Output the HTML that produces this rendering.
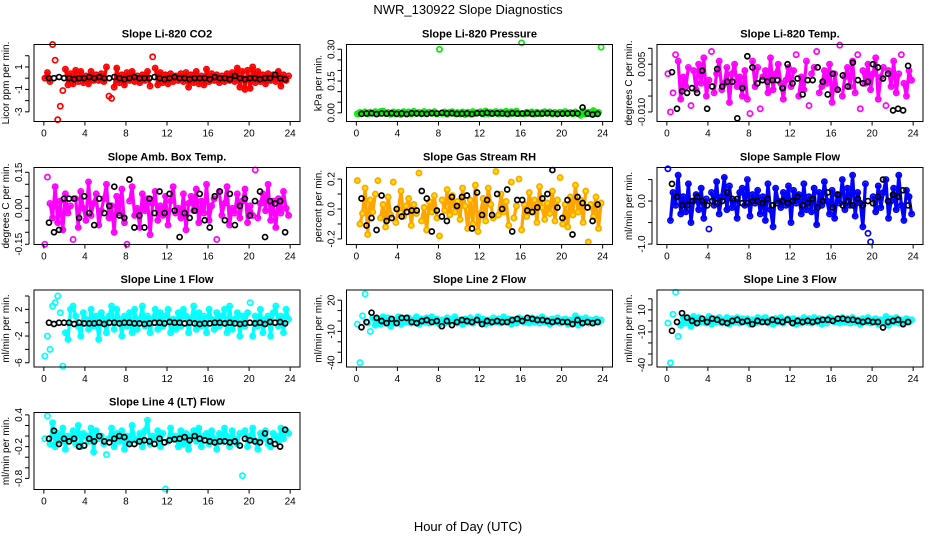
<!DOCTYPE html>
<html><head><meta charset="utf-8"><style>
body{margin:0;background:#fff}
svg{display:block;font-family:"Liberation Sans",Arial,sans-serif}
</style></head><body>
<svg id="c" width="936" height="540" viewBox="0 0 936 540" xmlns="http://www.w3.org/2000/svg">
<text x="468" y="14" text-anchor="middle" font-size="13">NWR_130922  Slope Diagnostics</text>
<text x="468" y="531" text-anchor="middle" font-size="13">Hour of Day (UTC)</text>
</svg>
<script>
// ---- data (values scaled by panel scale) ----
const titles = ["Slope Li-820 CO2","Slope Li-820 Pressure","Slope Li-820 Temp.","Slope Amb. Box Temp.","Slope Gas Stream RH","Slope Sample Flow","Slope Line 1 Flow","Slope Line 2 Flow","Slope Line 3 Flow","Slope Line 4 (LT) Flow"];
const yTitles = ["Licor ppm per min.","kPa per min.","degrees C per min.","degrees C per min.","percent per min.","ml/min per min.","ml/min per min.","ml/min per min.","ml/min per min.","ml/min per min."];
const colors = ["#ff0000","#00ee00","#ff00ff","#ff00ff","#ffa500","#0000ff","#00ffff","#00ffff","#00ffff","#00ffff"];
const scales = [10,1000,10000,1000,1000,100,10,1,1,100];
const coreLimits = [10,15,75,110,170,60,25,5,5,30];
const xTicks = [0,4,8,12,16,20,24];
const yTickVals = [[-3,-2,-1,0,1,2],[0,0.05,0.1,0.15,0.2,0.25,0.3],[-0.01,-0.005,0,0.005,0.01],[-0.15,-0.1,-0.05,0,0.05,0.1,0.15],[-0.2,-0.1,0,0.1,0.2],[-1,-0.5,0,0.5],[-6,-4,-2,0,2,4],[-40,-30,-20,-10,0,10,20],[-40,-30,-20,-10,0,10,20],[-0.8,-0.6,-0.4,-0.2,0,0.2,0.4]];
const yTickLabels = [["-3","","-1","","1",""],["0.00","","","0.15","","","0.30"],["-0.010","","","0.005",""],["-0.15","","","0.00","","","0.15"],["-0.2","","0.0","","0.2"],["-1.0","","0.0",""],["-6","","-2","","2",""],["-40","","","-10","","","20"],["-40","","","-10","","10",""],["-0.8","","","-0.2","","","0.4"]];
const yDomains = [[-3.86,3.0],[-0.041,0.3225],[-0.013,0.0112],[-0.151,0.17],[-0.237,0.277],[-1.01,0.78],[-6.64,4.9],[-44.2,29.8],[-41.8,28],[-1.01,0.445]];

const cCO2 = [0,5,-3,30,16,-37,-25,-11,8,-6,4,-5,7,-3,6,-4,2,-5,6,-2,3,-2,4,-3,10,-16,-18,-8,9,-4,3,-6,5,-2,6,-3,2,-4,3,-2,6,-7,19,9,-6,5,-4,3,-5,4,-3,2,-2,4,-3,5,-8,3,-4,6,-5,2,-6,8,-3,4,-2,3,-4,2,-3,4,-2,5,-3,9,-8,6,-10,7,-9,10,-4,6,-3,3,-5,4,-2,3,-3,6,-7,3,-2,2];
const kCO2 = [0,0,1,0,0,-1,0,0,1,0,1,0,0,1,0,-1,0,1,0,0,0,1,0,-1,0,1,0,0,-1,0,0,0,-1,1,0,0,-1,2,0,-1,0,0,-1,0,0,3,0,-1];
const cPres = [-5,2,-3,4,-6,3,-2,5,-4,6,8,-3,2,-7,4,-5,3,-8,5,-2,4,-6,7,-3,2,-5,6,-4,3,-2,5,-6,300,-3,4,-7,3,5,-4,2,-6,4,-8,3,-5,6,-3,2,5,-6,8,-4,3,-2,6,-5,4,-3,7,-6,5,-2,8,-4,330,-5,3,-2,4,-6,3,-4,2,5,-3,4,-6,2,-5,3,-4,6,-3,2,-5,4,-3,-12,8,-6,3,-5,10,-4,2,310];
const kPres = [-5,-3,-2,-6,-3,-4,-2,-5,-3,-6,-2,-3,-4,-5,-2,-3,0,-3,-2,-5,-4,-3,-6,-2,-3,0,-4,-2,-3,-5,-2,-4,-3,-2,-5,-3,-4,-2,-3,-5,-4,-3,-2,-3,25,-4,-8,-5];
const cTemp = [20,-100,-40,80,60,-60,10,-20,40,-80,30,-30,50,-10,70,-50,0,90,-40,20,60,-30,-10,40,-70,20,50,-20,10,-50,30,-60,-105,60,-20,40,-90,10,30,-40,70,-30,20,50,-10,-60,0,40,-20,30,80,-50,10,-30,60,-80,20,40,90,-40,-20,30,-10,50,-70,20,-30,110,-50,10,40,-20,60,-40,80,-90,30,-10,50,-30,20,70,-60,10,40,-80,30,-20,60,-40,20,80,-10,-50,30,0];
const kTemp = [25,-90,-35,-40,-25,-40,30,-90,-20,35,-20,-5,-5,-120,-25,75,40,-10,0,-5,0,0,-25,50,-10,5,-45,0,0,40,-5,-45,20,-30,15,-20,55,0,-10,-5,50,40,5,20,-95,-90,-95,45];
const cAmb = [-150,130,20,-40,90,-60,30,-90,60,-20,10,-130,40,-80,70,0,-50,110,-30,20,60,-70,-10,40,100,-40,10,-100,50,-20,80,-60,-150,30,90,-30,0,-80,60,-10,40,-110,20,70,-50,10,-30,50,-70,30,90,-20,0,-40,60,-90,20,50,-10,80,-60,30,-20,100,-50,10,40,-130,70,-30,20,90,-70,0,-20,60,-40,30,80,-60,10,-30,160,-40,20,60,-10,100,-50,30,-80,40,-20,70,0,-30];
const kAmb = [-60,-100,-90,40,40,40,-40,50,-20,-70,40,-20,10,90,-30,-40,120,-80,-30,-80,40,-20,70,-20,60,-10,-120,-20,-40,-10,60,-50,-80,50,70,-50,60,-70,10,40,-30,30,70,-120,30,20,30,-100];
const cRH = [190,-100,-30,140,-170,60,-20,100,190,-60,30,-120,80,-40,180,-90,0,120,-50,20,70,-110,30,-30,240,-80,10,-140,50,-20,90,-60,-180,60,-10,130,-40,90,-20,50,-70,140,20,-130,60,-100,160,-150,-30,70,-80,140,30,-60,250,-40,100,-20,50,-110,180,-60,20,200,-140,30,-50,110,-20,60,-90,150,10,-70,40,-30,120,-80,60,210,-100,30,-120,80,-40,160,-20,60,-90,120,-220,30,-50,80,-130,40];
const kRH = [70,-110,-60,-140,90,-80,-60,0,-50,-20,-10,-10,120,70,-150,-10,-50,-80,80,20,80,90,-130,110,-40,60,-40,100,0,130,-150,60,60,-10,-20,10,70,100,260,10,-60,60,-170,80,40,10,-80,30];
const cSF = [75,-45,20,-10,60,-30,10,-25,40,-50,0,15,-20,30,-40,5,-65,20,-10,45,-30,10,55,-20,35,-15,0,-40,20,30,-10,50,-35,15,-5,25,-30,10,-45,40,-20,-60,30,0,-15,20,-10,35,-50,25,-5,15,-30,40,-20,10,-25,30,-55,20,-10,45,0,-30,25,-40,15,-5,50,-20,30,-10,60,-35,20,-5,-60,40,-75,-95,10,-25,35,-15,20,50,-40,0,30,-20,60,-10,-45,25,10,-30];
const kSF = [40,10,-10,-10,0,10,0,-10,0,-5,0,20,5,5,-5,-5,0,0,-5,5,-10,-5,0,-5,0,10,-10,-5,5,-15,0,20,-15,15,-10,0,-10,5,-10,0,-5,10,50,0,15,10,25,-10];
const cL1 = [-50,-20,-40,25,30,40,15,-65,-15,-25,20,25,10,-5,-20,15,5,-10,20,-5,10,-25,15,5,-15,10,25,-10,20,5,-20,10,-5,15,-15,20,-10,5,25,-5,10,-15,5,20,-10,15,-5,10,20,-15,5,-10,15,-5,20,10,-15,5,25,-10,15,-5,10,-15,20,5,-10,15,-5,10,20,-15,25,-10,5,15,-20,10,-5,15,30,-20,10,-5,20,-15,5,10,-20,15,25,-5,10,-15,20,5];
const kL1 = [0,-2,0,0,0,-2,0,-1,-1,-1,0,-2,0,0,-1,0,0,-1,-1,-2,-1,0,0,-1,1,0,0,-1,0,-1,-2,-1,-1,0,0,-1,0,-1,-2,-1,0,-1,0,-2,1,0,1,-1];
const cL2 = [-3,-40,5,26,-2,-10,3,-4,2,-3,4,-2,3,-5,1,-2,4,-3,2,-1,3,-2,1,4,-3,2,-1,3,-2,4,-1,2,-3,1,-2,3,-1,2,4,-2,1,-3,2,-1,3,-2,1,4,-1,2,-3,1,-2,3,-1,2,-2,4,-1,2,-3,1,-2,3,2,-1,1,-2,3,-1,2,-2,4,-1,1,-3,2,-1,3,-2,1,2,-3,1,-2,5,-4,2,-1,3,-2,1,-2,2,-1,1];
const kL2 = [-6,-1,8,3,0,-2,2,-2,3,3,-1,-2,0,1,-1,0,-5,0,-4,-1,1,0,-1,1,-3,0,-1,0,-1,-1,1,2,0,3,2,1,1,0,-1,0,-1,-1,-3,1,-2,-1,-2,-1];
const cL3 = [-2,-38,6,26,-14,-4,3,-2,2,-5,4,-2,3,-1,1,-2,4,-3,2,-1,3,-2,1,3,-3,2,-1,3,-2,2,-1,2,-3,1,-2,3,-1,2,3,-2,1,-3,2,-1,3,-2,1,2,-1,2,-3,1,-2,3,-1,2,-2,3,-1,2,-3,1,-2,3,2,-1,1,-2,3,-1,2,-2,3,-1,1,-3,2,-1,3,-2,1,2,-3,1,-2,4,-4,2,-1,3,-2,1,-2,2,-1,1];
const kL3 = [-9,-1,7,3,0,-2,2,-1,2,1,-1,-2,0,1,-1,0,-3,0,-1,-1,1,0,-1,1,-2,0,-1,0,-1,0,1,1,0,2,2,1,1,0,-1,0,-1,-1,-6,-1,0,1,-3,-1];
const cL4 = [-5,38,-15,25,-20,5,-10,15,-25,0,-5,10,-15,20,-20,5,0,-10,15,-30,10,-5,0,-15,-35,-5,15,-20,5,-10,10,-25,0,-15,20,-5,-10,5,-20,10,30,-15,0,-5,10,-20,5,-100,-10,15,-5,0,-20,10,-15,5,-25,0,10,-10,15,-20,0,5,-15,10,-5,-25,5,-10,15,0,-20,10,-5,-15,5,-75,10,-20,0,15,-10,-25,5,-5,10,-15,-20,5,0,-10,15,-5,10,5];
const kL4 = [-5,10,-15,-5,-10,-5,-20,-18,-5,-10,0,-10,-12,-5,0,-2,-15,-15,-10,-8,-10,-15,-5,-12,-8,-6,-5,-2,-8,0,-5,-8,-10,-12,-10,-10,-12,-10,-18,-5,-8,-10,-12,5,-10,-15,-20,12];

const colorSeries = [cCO2,cPres,cTemp,cAmb,cRH,cSF,cL1,cL2,cL3,cL4];
const blackSeries = [kCO2,kPres,kTemp,kAmb,kRH,kSF,kL1,kL2,kL3,kL4];

// ---- layout ----
const NS = "http://www.w3.org/2000/svg";
const svg = document.getElementById('c');
const colL = [34, 346.5, 657], colW = 266;
const rowT = [44.5, 167.5, 290, 412.5], rowH = 77;
function mk(tag, attrs, parent){const e=document.createElementNS(NS,tag);for(const k in attrs)e.setAttribute(k,attrs[k]);(parent||svg).appendChild(e);return e;}

titles.forEach((t, p) => {
  const L = colL[p % 3], T = rowT[Math.floor(p / 3)], W = colW, H = rowH;
  const pad = W * 0.04 / 1.08;
  const xs = v => L + pad + (v / 24) * (W - 2 * pad);
  const [d0, d1] = yDomains[p];
  const ys = v => T + H - (v - d0) / (d1 - d0) * H;
  const g = mk('g', {});
  
  
  const tt = mk('text', {x: L + W / 2, y: T - 7, 'text-anchor': 'middle', 'font-size': 11, 'font-weight': 'bold'}, g);
  tt.textContent = t;
  
  
  const sc = scales[p];
  const cs = colorSeries[p];
  const cx = i => xs(i * 24 / cs.length + 0.1);
  // dense cloud: connect consecutive core (non-outlier) observations
  const lim = coreLimits[p];
  for (let i = 0; i < cs.length - 1; i++) {
    if (Math.abs(cs[i]) <= lim && Math.abs(cs[i + 1]) <= lim) {
      const s = mk('line', {x1: cx(i), y1: ys(cs[i] / sc), x2: cx(i + 1), y2: ys(cs[i + 1] / sc), stroke: colors[p], 'stroke-width': 3.2, 'stroke-linecap': 'round'}, g);
      
      
    }
  }
  cs.forEach((v, i) => {
    const c = mk('circle', {cx: cx(i), cy: ys(v / sc), r: 2.6, fill: p === 4 ? '#ffe000' : 'none', stroke: colors[p], 'stroke-width': 1.7}, g);
    
    
  });
  const bs = blackSeries[p];
  bs.forEach((v, i) => {
    const c = mk('circle', {cx: xs(0.5 + i * 23.5 / bs.length), cy: ys(v / sc), r: 2.5, fill: 'none', stroke: '#000', 'stroke-width': 1.7}, g);
    
    
  });
  const box = mk('rect', {x: L, y: T, width: W, height: H, fill: 'none', stroke: '#000', 'stroke-width': 1}, g);
  
  
  xTicks.forEach(v => {
    mk('line', {x1: xs(v), x2: xs(v), y1: T + H, y2: T + H + 4, stroke: '#000'}, g);
    const lb = mk('text', {x: xs(v), y: T + H + 15, 'text-anchor': 'middle', 'font-size': 10}, g);
    lb.textContent = v;
    
    
  });
  const tv = yTickVals[p];
  mk('line', {x1: L - 5, x2: L - 5, y1: ys(tv[0]), y2: ys(tv[tv.length - 1]), stroke: '#000'}, g);
  tv.forEach((v, i) => {
    mk('line', {x1: L - 9, x2: L - 5, y1: ys(v), y2: ys(v), stroke: '#000'}, g);
    const s = yTickLabels[p][i];
    if (s) {
      const lb = mk('text', {x: 0, y: 0, 'text-anchor': 'middle', 'font-size': 10, transform: `translate(${L - 12},${ys(v)}) rotate(-90)`}, g);
      lb.textContent = s;
      
      
    }
  });
  const yt = mk('text', {x: 0, y: 0, 'text-anchor': 'middle', 'font-size': 10, transform: `translate(${L - 25},${T + H / 2}) rotate(-90)`}, g);
  yt.textContent = yTitles[p];
  
  
});
</script>
</body></html>
